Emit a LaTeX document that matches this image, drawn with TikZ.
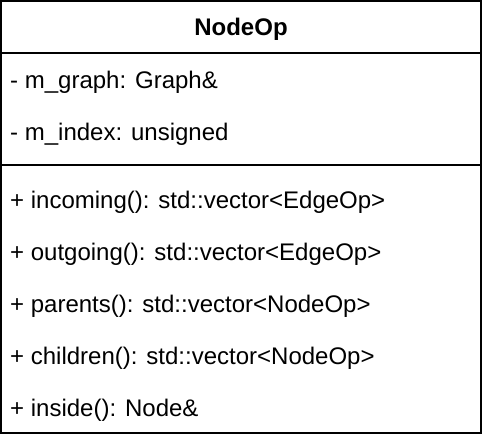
\documentclass[tikz,border=0pt]{standalone}
\usepackage{fontspec}
\setmainfont{Liberation Sans}

\tikzset{member/.style={anchor=base west, inner sep=0}}

\begin{document}
\begin{tikzpicture}[x=1pt, y=-1pt, font=\fontsize{24}{28}\selectfont]

\useasboundingbox (0,0) rectangle (482,440);

\draw[line width=2pt] (1, 1) rectangle (481, 433); %class box
\draw[line width=2pt] (1, 53) -- (481, 53); %below the name
\draw[line width=2pt] (1, 165) -- (481, 165); %between fields and methods

\node[anchor=base, inner sep=0, font=\fontsize{24}{28}\selectfont\bfseries] (name) at (241, 35) {NodeOp};

\node[member] (graph) at (10, 88) {- m\_graph: Graph\&};
\node[member] (index) at (10, 140) {- m\_index: unsigned};

\node[member] (incoming) at (10, 208) {+ incoming(): std::vector<EdgeOp>};
\node[member] (outgoing) at (10, 260) {+ outgoing(): std::vector<EdgeOp>};
\node[member] (parents) at (10, 312) {+ parents(): std::vector<NodeOp>};
\node[member] (children) at (10, 364) {+ children(): std::vector<NodeOp>};
\node[member] (inside) at (10, 416) {+ inside(): Node\&};

\end{tikzpicture}
\end{document}
